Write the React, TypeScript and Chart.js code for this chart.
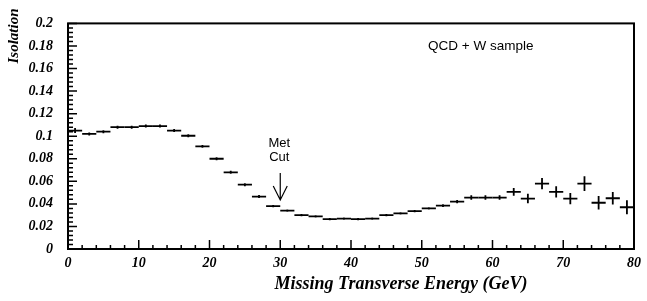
import React, { useEffect, useRef } from "react";
import { Chart, registerables } from "chart.js";

Chart.register(...registerables);

// Bin centres (GeV), 2 GeV wide bins
const binCenters = [1, 3, 5, 7, 9, 11, 13, 15, 17, 19, 21, 23, 25, 27, 29, 31, 33, 35, 37, 39,
  41, 43, 45, 47, 49, 51, 53, 55, 57, 59, 61, 63, 65, 67, 69, 71, 73, 75, 77, 79];
const binHalfWidth = 1;
const isolation = [0.105, 0.102, 0.104, 0.108, 0.108, 0.109, 0.109, 0.105, 0.1004, 0.091,
  0.080, 0.068, 0.057, 0.0465, 0.038, 0.034, 0.030, 0.029, 0.0265, 0.027,
  0.0265, 0.027, 0.030, 0.0315, 0.0335, 0.036, 0.0385, 0.042, 0.0456, 0.0456,
  0.0456, 0.0506, 0.0447, 0.058, 0.0506, 0.0447, 0.058, 0.041, 0.045, 0.037];
const isolationErr = [0.0022, 0.0013, 0.0013, 0.0013, 0.0013, 0.0013, 0.0013, 0.0013, 0.0013, 0.0013,
  0.0013, 0.0013, 0.0013, 0.0013, 0.001, 0.001, 0.001, 0.001, 0.001, 0.001,
  0.001, 0.001, 0.001, 0.001, 0.001, 0.001, 0.0012, 0.0015, 0.002, 0.002,
  0.002, 0.0034, 0.0042, 0.005, 0.005, 0.005, 0.0066, 0.006, 0.0056, 0.0063];

const xMin = 0;
const xMax = 80;
const yMin = 0;
const yMax = 0.2;
const xMajorStep = 10;
const xMinorStep = 2;
const yMajorStep = 0.02;
const yMinorStep = 0.004;

const xTitle = "Missing Transverse Energy (GeV)";
const yTitle = "Isolation";
const sampleLabel = "QCD + W sample";
const cutValue = 30;
const cutLabel = ["Met", "Cut"];

const SERIF = "'Liberation Serif', 'Times New Roman', serif";
const SANS = "'Liberation Sans', Arial, sans-serif";

const histPlugin = {
  id: "histPlugin",
  afterDraw(chart: any) {
    const ctx = chart.ctx;
    const xs = chart.scales.x;
    const ys = chart.scales.y;
    const area = chart.chartArea;
    ctx.save();
    ctx.strokeStyle = "#000";
    ctx.fillStyle = "#000";

    // data crosses
    ctx.lineWidth = 1.8;
    for (let i = 0; i < binCenters.length; i++) {
      const c = binCenters[i];
      const v = isolation[i];
      const e = isolationErr[i];
      const x0 = xs.getPixelForValue(c - binHalfWidth);
      const x1 = xs.getPixelForValue(c + binHalfWidth);
      const xc = xs.getPixelForValue(c);
      const py = ys.getPixelForValue(v);
      ctx.beginPath();
      ctx.moveTo(x0, py);
      ctx.lineTo(x1, py);
      ctx.moveTo(xc, ys.getPixelForValue(v - e));
      ctx.lineTo(xc, ys.getPixelForValue(v + e));
      ctx.stroke();
    }

    // ticks (inward)
    ctx.lineWidth = 1.5;
    ctx.beginPath();
    const nx = Math.round((xMax - xMin) / xMinorStep);
    for (let i = 0; i <= nx; i++) {
      const v = xMin + i * xMinorStep;
      const px = xs.getPixelForValue(v);
      const major = Math.abs(v / xMajorStep - Math.round(v / xMajorStep)) < 1e-6;
      const len = major ? 9 : 4;
      ctx.moveTo(px, area.bottom);
      ctx.lineTo(px, area.bottom - len);
    }
    const ny = Math.round((yMax - yMin) / yMinorStep);
    for (let i = 0; i <= ny; i++) {
      const v = yMin + i * yMinorStep;
      const py = ys.getPixelForValue(v);
      const major = i % Math.round(yMajorStep / yMinorStep) === 0;
      const len = major ? 9 : 5;
      ctx.moveTo(area.left, py);
      ctx.lineTo(area.left + len, py);
    }
    ctx.stroke();

    // frame
    ctx.lineWidth = 2;
    ctx.strokeRect(area.left, area.top, area.right - area.left, area.bottom - area.top);

    // titles
    ctx.textAlign = "center";
    ctx.textBaseline = "middle";
    ctx.font = `italic bold 18px ${SERIF}`;
    ctx.fillText(xTitle, 401, 284);
    ctx.save();
    ctx.font = `italic bold 15px ${SERIF}`;
    ctx.translate(14, 36);
    ctx.rotate(-Math.PI / 2);
    ctx.fillText(yTitle, 0, 0);
    ctx.restore();

    // sample label
    ctx.font = `13.5px ${SANS}`;
    ctx.textAlign = "left";
    ctx.fillText(sampleLabel, 428, 46);

    // cut annotation
    const cx = xs.getPixelForValue(cutValue);
    ctx.font = `13px ${SANS}`;
    ctx.textAlign = "center";
    ctx.fillText(cutLabel[0], cx - 1, 143);
    ctx.fillText(cutLabel[1], cx - 1, 157);
    ctx.lineWidth = 1.2;
    ctx.beginPath();
    ctx.moveTo(cx, 173);
    ctx.lineTo(cx, 200);
    ctx.moveTo(cx - 7, 186);
    ctx.lineTo(cx, 200);
    ctx.lineTo(cx + 7, 186);
    ctx.stroke();

    ctx.restore();
  },
};

export default function App() {
  const ref = useRef<HTMLCanvasElement | null>(null);
  useEffect(() => {
    document.body.style.margin = "0";
    const canvas = ref.current;
    if (!canvas) return;
    const chart = new Chart(canvas, {
      type: "scatter",
      data: {
        datasets: [
          {
            label: yTitle,
            data: binCenters.map((c, i) => ({ x: c, y: isolation[i] })),
            pointRadius: 0,
            showLine: false,
          },
        ],
      },
      options: {
        animation: false,
        responsive: false,
        devicePixelRatio: 1,
        layout: { padding: { top: 12, right: 7, left: 0, bottom: 0 } },
        plugins: { legend: { display: false }, tooltip: { enabled: false } },
        scales: {
          x: {
            type: "linear",
            min: xMin,
            max: xMax,
            grid: { display: false, drawTicks: false },
            border: { display: false },
            ticks: {
              stepSize: xMajorStep,
              padding: 6,
              color: "#000",
              maxRotation: 0,
              font: { family: SERIF, size: 14, style: "italic", weight: "bold" },
            },
            afterFit: (s: any) => { s.height = 52; },
          },
          y: {
            type: "linear",
            min: yMin,
            max: yMax,
            grid: { display: false, drawTicks: false },
            border: { display: false },
            ticks: {
              stepSize: yMajorStep,
              padding: 15,
              color: "#000",
              font: { family: SERIF, size: 14, style: "italic", weight: "bold" },
              callback: (v: any) => String(Number(Number(v).toFixed(3))),
            },
            afterFit: (s: any) => { s.width = 68; },
          },
        },
      },
      plugins: [histPlugin],
    });
    return () => chart.destroy();
  }, []);
  return <canvas ref={ref} width={647} height={301} style={{ display: "block" }} />;
}
